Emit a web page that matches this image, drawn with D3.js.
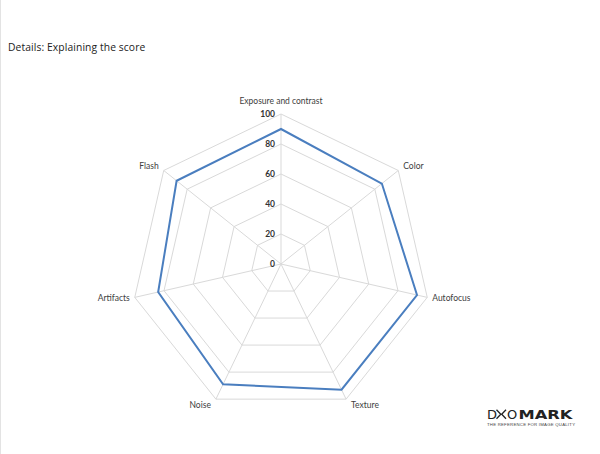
<!DOCTYPE html>
<html>
<head>
<meta charset="utf-8">
<script src="https://cdn.jsdelivr.net/npm/d3@7"></script>
<style>
  html, body { margin: 0; padding: 0; background: #fff; }
  svg { display: block; }
</style>
</head>
<body>
<svg id="chart" width="600" height="454"></svg>
<script>
const categories = ["Exposure and contrast", "Color", "Autofocus", "Texture", "Noise", "Artifacts", "Flash"];
const scores = [90, 86, 93, 93, 89, 84, 89];
const tickValues = [0, 20, 40, 60, 80, 100];
const titleText = "Details: Explaining the score";

const svg = d3.select("#chart");
const W = 600, H = 454;
const cx = 281, cy = 264, R = 150;

// left border line
svg.append("line").attr("x1", 0.5).attr("x2", 0.5).attr("y1", 0).attr("y2", H)
  .attr("stroke", "#e3e3e3").attr("stroke-width", 1);

svg.append("text").attr("x", 8).attr("y", 51)
  .attr("font-family", "'Open Sans', sans-serif").attr("font-size", 10.3)
  .attr("fill", "#222").attr("letter-spacing", 0.1).text(titleText);

const r = d3.scaleLinear().domain([0, 100]).range([0, R]);
const angle = d3.scaleLinear().domain([0, categories.length]).range([0, 2 * Math.PI]);
const pt = (i, v) => [cx + r(v) * Math.sin(angle(i)), cy - r(v) * Math.cos(angle(i))];

const g = svg.append("g");
// grid polygons
tickValues.filter(t => t > 0).forEach(t => {
  g.append("path")
    .attr("d", d3.line()(categories.map((c, i) => pt(i, t))) + "Z")
    .attr("fill", "none").attr("stroke", "#d9d9d9").attr("stroke-width", 1);
});
// spokes
categories.forEach((c, i) => {
  const [x, y] = pt(i, 100);
  g.append("line").attr("x1", cx).attr("y1", cy).attr("x2", x).attr("y2", y)
    .attr("stroke", "#d9d9d9").attr("stroke-width", 1);
});
// tick labels
tickValues.forEach(t => {
  g.append("text").attr("x", cx - 6).attr("y", cy - r(t)).attr("dy", "0.35em")
    .attr("text-anchor", "end")
    .attr("font-family", "Lato, 'Open Sans', sans-serif").attr("font-weight", "bold")
    .attr("font-size", 8.5).attr("fill", "#333").text(t);
});
// axis labels
categories.forEach((c, i) => {
  const a = angle(i);
  const [x, y] = pt(i, 100);
  const s = Math.sin(a), co = Math.cos(a);
  let anchor = "middle", dx = 0, dy = 0;
  if (s > 0.1) { anchor = "start"; dx = 5; }
  else if (s < -0.1) { anchor = "end"; dx = -5; }
  if (i === 0) dy = -10;
  else if (co > 0.3) dy = -1;
  else if (co < -0.5) dy = 9;
  else dy = 4;
  g.append("text").attr("x", x + dx).attr("y", y + dy)
    .attr("text-anchor", anchor)
    .attr("font-family", "Lato, 'Open Sans', sans-serif")
    .attr("font-size", 8.5).attr("fill", "#404040").text(c);
});
// series
g.append("path")
  .attr("d", d3.line()(scores.map((v, i) => pt(i, v))) + "Z")
  .attr("fill", "none").attr("stroke", "#4a7ebf").attr("stroke-width", 2)
  .attr("stroke-linejoin", "miter");

// logo
const logo = svg.append("g").attr("transform", "translate(487,409)");
logo.append("text").attr("x", 0).attr("y", 10)
  .attr("font-family", "'DejaVu Sans', sans-serif").attr("font-size", 13)
  .attr("fill", "#222").text("D");
logo.append("path").attr("d", "M9.5,0.8 L13.8,5.3 L9.5,9.8 M19,0.8 L14.7,5.3 L19,9.8")
  .attr("fill", "none").attr("stroke", "#222").attr("stroke-width", 1.3);
logo.append("text").attr("x", 20).attr("y", 10)
  .attr("font-family", "'DejaVu Sans', sans-serif").attr("font-size", 13)
  .attr("fill", "#222").attr("textLength", 10).text("O");
logo.append("text").attr("x", 31.5).attr("y", 10)
  .attr("font-family", "'DejaVu Sans', sans-serif").attr("font-weight", "bold").attr("font-size", 13)
  .attr("fill", "#222").attr("textLength", 54).attr("lengthAdjust", "spacingAndGlyphs").text("MARK");
logo.append("text").attr("x", 0).attr("y", 16.5)
  .attr("font-family", "'Liberation Sans', sans-serif").attr("font-size", 4.3)
  .attr("fill", "#444").attr("textLength", 88).text("THE REFERENCE FOR IMAGE QUALITY");
</script>
</body>
</html>
